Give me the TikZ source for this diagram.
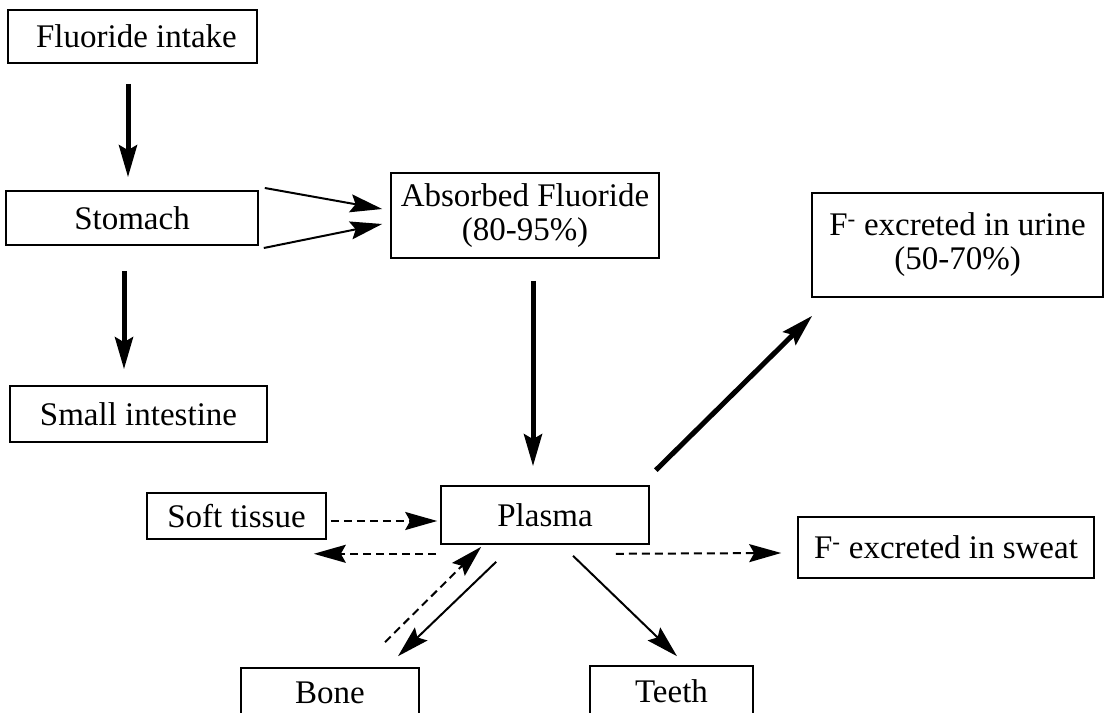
\documentclass[tikz,border=0pt]{standalone}
\usepackage{fontspec}
\setmainfont{Liberation Serif}
\usetikzlibrary{arrows.meta,calc}
\begin{document}
\begin{tikzpicture}[x=1pt,y=1pt,
  box/.style={draw,line width=1.6pt,rectangle,inner sep=0pt,align=center,
    font=\fontsize{33}{34}\selectfont},
  tip/.style={-{Stealth[length=32pt,width=18pt,inset=5pt]}},
  thickarr/.style={tip,line width=5pt},
  thinarr/.style={tip,line width=2pt},
  dasharr/.style={tip,line width=2pt,dash pattern=on 8pt off 5pt}]
\useasboundingbox (0,0) rectangle (1105,712);
\node[box,minimum width=249pt,minimum height=53pt] (intake) at (132.5,675.5) {\hspace*{8pt}Fluoride intake};
\node[box,minimum width=252pt,minimum height=54pt] (stomach) at (132,494) {Stomach};
\node[box,minimum width=257pt,minimum height=56pt] (intestine) at (138.5,298) {Small intestine};
\node[box,minimum width=268pt,minimum height=85pt] (absorbed) at (525,496.5) {Absorbed Fluoride\\(80-95\%)};
\node[box,minimum width=291pt,minimum height=104pt] (urine) at (957.5,467) {F\textsuperscript{-} excreted in urine\\(50-70\%)};
\node[box,minimum width=208pt,minimum height=58pt] (plasma) at (545,197) {Plasma};
\node[box,minimum width=179pt,minimum height=46pt] (soft) at (236.5,196) {Soft tissue};
\node[box,minimum width=296pt,minimum height=61pt] (sweat) at (946,164.5) {F\textsuperscript{-} excreted in sweat};
\node[box,minimum width=178pt,minimum height=50pt] (bone) at (330,19) {Bone};
\node[box,minimum width=163pt,minimum height=50pt] (teeth) at (671.5,21) {Teeth};

\draw[thickarr] ($(intake.south)+(-4.5,-20)$) -- ($(stomach.north)+(-4,13)$);
\draw[thinarr] ($(stomach.east)+(6,30)$) -- ($(absorbed.west)+(-8,6.5)$);
\draw[thinarr] ($(stomach.east)+(5,-30)$) -- ($(absorbed.west)+(-8,-8.5)$);
\draw[thickarr] ($(stomach.south)+(-8,-25)$) -- ($(intestine.north)+(-14.5,16)$);
\draw[thickarr] ($(absorbed.south)+(8,-22)$) -- ($(plasma.north)+(-12,19)$);
\draw[thickarr] ($(plasma.north east)+(6,15)$) -- ($(urine.south west)+(1,-18)$);
\draw[dasharr] ($(soft.east)+(4,-5)$) -- ($(plasma.west)+(-3,-6)$);
\draw[dasharr] ($(plasma.south west)+(-4,-9)$) -- ($(soft.south east)+(-13,-14)$);
\draw[dasharr] ($(bone.north)+(55,25)$) -- ($(plasma.south west)+(41,-2)$);
\draw[thinarr] ($(plasma.south west)+(56,-17)$) -- ($(bone.north)+(68,11)$);
\draw[thinarr] ($(plasma.south)+(28,-11)$) -- ($(teeth.north)+(5.5,9)$);
\draw[dasharr] ($(plasma.south east)+(-34,-9)$) -- ($(sweat.west)+(-16,-5.5)$);
\end{tikzpicture}
\end{document}
